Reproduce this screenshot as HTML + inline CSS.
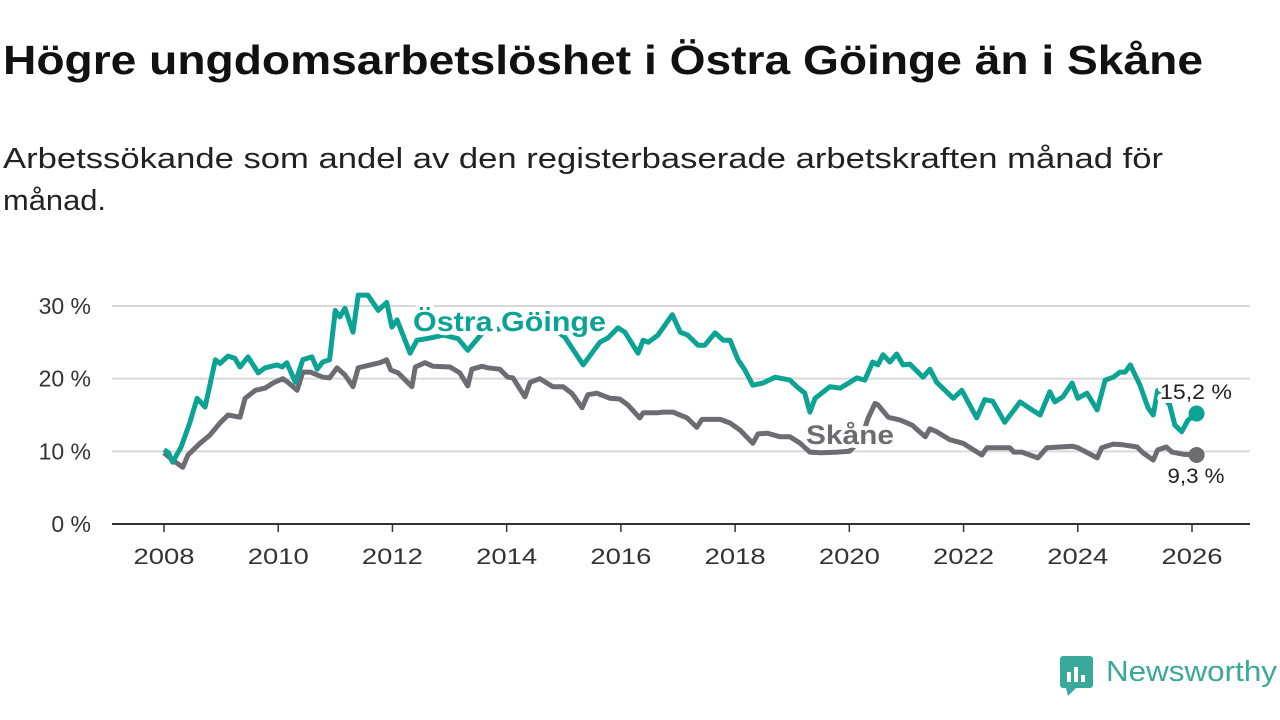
<!DOCTYPE html>
<html><head><meta charset="utf-8"><style>
body{margin:0;background:#fff;}
svg{display:block;font-family:"Liberation Sans",sans-serif;}
</style></head><body>
<svg id="chart" width="1280" height="720" viewBox="0 0 1280 720">
<text x="3" y="74" font-size="41" font-weight="bold" fill="#111" textLength="1200" lengthAdjust="spacingAndGlyphs">Högre ungdomsarbetslöshet i Östra Göinge än i Skåne</text>
<text x="3" y="168" font-size="29" fill="#222" textLength="1160" lengthAdjust="spacingAndGlyphs">Arbetssökande som andel av den registerbaserade arbetskraften månad för</text>
<text x="3" y="210" font-size="29" fill="#222" textLength="103" lengthAdjust="spacingAndGlyphs">månad.</text>
<g id="grid"></g><g id="series"></g><g id="labels"></g>
<g>
<rect x="1060" y="656" width="33" height="32" rx="3" fill="#3aa89b"/>
<polygon points="1066,688 1076,688 1068,696" fill="#3aa89b"/>
<rect x="1067" y="672" width="4" height="10" fill="#fff"/><rect x="1074" y="667" width="4" height="15" fill="#fff"/><rect x="1081" y="675" width="4" height="7" fill="#fff"/>
<text x="1106" y="681" font-size="29" fill="#3aa89b" textLength="171" lengthAdjust="spacingAndGlyphs">Newsworthy</text>
</g>
</svg>
<script>
const goingeT=[2008.0,2008.08,2008.15,2008.3,2008.45,2008.58,2008.72,2008.9,2008.98,2009.12,2009.24,2009.33,2009.47,2009.65,2009.77,2009.98,2010.07,2010.15,2010.3,2010.43,2010.59,2010.68,2010.78,2010.9,2011.0,2011.08,2011.17,2011.31,2011.4,2011.57,2011.75,2011.9,2011.99,2012.08,2012.31,2012.43,2012.6,2012.9,2013.15,2013.32,2013.6,2014.0,2014.4,2014.8,2015.02,2015.34,2015.63,2015.77,2015.95,2016.07,2016.3,2016.39,2016.48,2016.65,2016.9,2017.04,2017.17,2017.35,2017.47,2017.65,2017.79,2017.91,2018.05,2018.17,2018.31,2018.49,2018.7,2018.96,2019.08,2019.22,2019.31,2019.4,2019.66,2019.84,2020.01,2020.13,2020.27,2020.41,2020.5,2020.59,2020.71,2020.83,2020.94,2021.06,2021.29,2021.41,2021.53,2021.82,2021.97,2022.23,2022.37,2022.51,2022.72,2022.99,2023.2,2023.34,2023.51,2023.6,2023.74,2023.9,2024.0,2024.16,2024.34,2024.48,2024.62,2024.74,2024.83,2024.92,2025.09,2025.23,2025.32,2025.4,2025.5,2025.61,2025.7,2025.82,2025.93,2026.08];
const goingeV=[10.2,9.8,8.5,10.6,13.9,17.3,16.1,22.6,22.1,23.1,22.8,21.6,23.0,20.8,21.5,21.9,21.6,22.2,19.5,22.6,23.0,21.3,22.3,22.6,29.4,28.5,29.7,26.4,31.5,31.5,29.4,30.5,27.1,28.1,23.5,25.3,25.5,26.0,25.5,23.9,26.5,27.0,27.5,27.0,25.7,21.9,25.0,25.6,27.0,26.4,23.5,25.3,25.0,26.0,28.8,26.4,26.0,24.6,24.6,26.3,25.3,25.3,22.6,21.2,19.1,19.4,20.2,19.8,18.9,18.0,15.4,17.3,18.9,18.7,19.5,20.1,19.8,22.3,21.9,23.3,22.3,23.4,21.9,22.0,20.2,21.3,19.5,17.3,18.4,14.6,17.1,16.9,14.0,16.8,15.7,15.0,18.2,16.8,17.5,19.4,17.3,18.0,15.7,19.8,20.2,20.9,20.9,21.9,19.1,16.0,15.0,18.4,17.5,16.4,13.6,12.7,14.3,15.2];
const skaneT=[2008.0,2008.15,2008.33,2008.42,2008.63,2008.8,2008.98,2009.12,2009.33,2009.42,2009.6,2009.77,2009.91,2010.08,2010.17,2010.33,2010.43,2010.56,2010.78,2010.9,2011.03,2011.17,2011.31,2011.4,2011.61,2011.78,2011.9,2011.97,2012.1,2012.34,2012.4,2012.57,2012.71,2013.01,2013.18,2013.32,2013.39,2013.57,2013.67,2013.88,2014.02,2014.11,2014.32,2014.41,2014.58,2014.81,2014.99,2015.14,2015.32,2015.42,2015.58,2015.81,2015.98,2016.12,2016.33,2016.39,2016.63,2016.74,2016.91,2017.16,2017.33,2017.42,2017.74,2017.91,2018.09,2018.31,2018.4,2018.56,2018.79,2018.96,2019.14,2019.31,2019.5,2019.8,2020.0,2020.2,2020.33,2020.45,2020.5,2020.68,2020.89,2021.1,2021.33,2021.41,2021.53,2021.76,2021.99,2022.32,2022.41,2022.81,2022.88,2023.02,2023.3,2023.46,2023.69,2023.9,2024.0,2024.34,2024.42,2024.62,2024.79,2025.04,2025.14,2025.32,2025.4,2025.55,2025.65,2025.84,2026.08];
const skaneV=[9.8,8.8,7.8,9.5,11.1,12.2,13.9,15.0,14.7,17.3,18.4,18.7,19.4,20.0,19.5,18.4,20.9,20.9,20.2,20.1,21.5,20.5,18.9,21.5,21.9,22.2,22.6,21.2,20.8,18.9,21.6,22.2,21.7,21.6,20.8,19.0,21.3,21.7,21.5,21.3,20.2,20.1,17.5,19.5,20.0,18.9,18.9,18.0,16.0,17.8,18.0,17.3,17.2,16.4,14.6,15.3,15.3,15.4,15.4,14.6,13.3,14.4,14.4,13.9,12.9,11.1,12.4,12.5,12.0,12.0,11.1,9.9,9.8,9.9,10.0,11.5,14.6,16.6,16.4,14.7,14.3,13.6,12.0,13.1,12.7,11.6,11.1,9.5,10.5,10.5,9.9,9.9,9.1,10.5,10.6,10.7,10.5,9.1,10.5,11.0,10.9,10.6,9.8,8.8,10.2,10.6,9.9,9.6,9.5];
const yTicks=[0,10,20,30];
const xTicks=[2008,2010,2012,2014,2016,2018,2020,2022,2024,2026];
const endLabels=["15,2 %","9,3 %"];
const NS="http://www.w3.org/2000/svg";
const X=t=>164+(t-2008)*(1028/18);
const Y=v=>524-v*(218/30);
function mk(tag,attrs,parent){const e=document.createElementNS(NS,tag);for(const k in attrs)e.setAttribute(k,attrs[k]);parent.appendChild(e);return e;}
const grid=document.getElementById('grid'),series=document.getElementById('series'),labels=document.getElementById('labels');
yTicks.forEach(v=>{
 if(v>0){const l=mk('line',{x1:112,x2:1250,y1:Y(v),y2:Y(v),stroke:'#d9d9d9','stroke-width':2},grid);
 
 }
 const t=mk('text',{x:91,y:Y(v)+8,'font-size':23,fill:'#333','text-anchor':'end'},grid);t.textContent=v+' %';
 
 
});
const ax=mk('line',{x1:112,x2:1250,y1:524,y2:524,stroke:'#333','stroke-width':2},grid);


xTicks.forEach(y=>{
 mk('line',{x1:X(y),x2:X(y),y1:524,y2:532,stroke:'#333','stroke-width':1.5},grid);
 const t=mk('text',{x:X(y),y:564,'font-size':22,fill:'#333','text-anchor':'middle',textLength:61,lengthAdjust:'spacingAndGlyphs'},grid);t.textContent=y;
 
 
});
function line(T,V,color,name){
 const d=T.map((t,i)=>(i?'L':'M')+X(t).toFixed(1)+','+Y(V[i]).toFixed(1)).join('');
 const p=mk('path',{d:d,fill:'none',stroke:color,'stroke-width':5,'stroke-linejoin':'round'},series);
 
 
 const n=T.length-1;
 const c=mk('circle',{cx:X(T[n]),cy:Y(V[n]),r:8,fill:color},series);
 
 
}
line(skaneT,skaneV,'#6d6c72','skane');
line(goingeT,goingeV,'#0ba394','ostra-goinge');
function lab(x,y,txt,size,color,w,name,anchor,len){
 const a={x:x,y:y,'font-size':size,'font-weight':w,fill:color,stroke:'#fff','stroke-width':8,'paint-order':'stroke','stroke-linejoin':'round','text-anchor':anchor||'start'};
 if(len){a.textLength=len;a.lengthAdjust='spacingAndGlyphs';}
 const t=mk('text',a,labels);
 t.textContent=txt;
 
 
}
lab(413,331,'Östra Göinge',28,'#0ba394','bold','series-label-ostra-goinge','start',193);
lab(806,444,'Skåne',27,'#6d6c72','bold','series-label-skane','start',88);
lab(1196,399,endLabels[0],21,'#222','normal','end-value-ostra-goinge','middle',72);
lab(1196,483,endLabels[1],21,'#222','normal','end-value-skane','middle',57);
</script>
</body></html>
